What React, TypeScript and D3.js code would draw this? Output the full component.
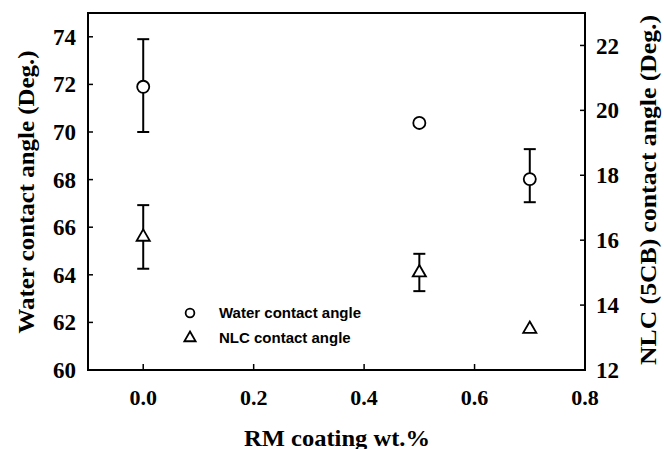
import React, { useEffect, useRef } from "react";
import * as d3 from "d3";

// RM coating wt.% values
const coating = [0.0, 0.5, 0.7];
// water contact angle (left axis) and its error range
const waterAngle = [71.9, 70.38, 68.02];
const waterLow = [70.0, null, 67.05];
const waterHigh = [73.9, null, 69.28];
// NLC (5CB) contact angle (right axis) and its error range
const nlcAngle = [16.1, 15.0, 13.26];
const nlcLow = [15.12, 14.43, null];
const nlcHigh = [17.08, 15.58, null];

const xTicks = [0.0, 0.2, 0.4, 0.6, 0.8];
const leftTicks = [60, 62, 64, 66, 68, 70, 72, 74];
const rightTicks = [12, 14, 16, 18, 20, 22];
const legendLabels = ["Water contact angle", "NLC contact angle"];

const App = () => {
  const svgRef = useRef<SVGSVGElement>(null);

  useEffect(() => {
    const svg = d3.select(svgRef.current);
    svg.selectAll("*").remove();

    const margin = { top: 13, right: 79, bottom: 79, left: 88 };
    const width = 664 - margin.left - margin.right;
    const height = 449 - margin.top - margin.bottom;
    const serif = "'Liberation Serif', 'Times New Roman', serif";
    const sans = "'Liberation Sans', Arial, sans-serif";

    const x = d3.scaleLinear().domain([-0.1, 0.8]).range([0, width]);
    const yL = d3.scaleLinear().domain([60, 75]).range([height, 0]);
    const yR = d3.scaleLinear().domain([12, 23]).range([height, 0]);

    const g = svg.append("g").attr("transform", `translate(${margin.left},${margin.top})`);

    // frame
    g.append("rect")
      .attr("width", width)
      .attr("height", height)
      .attr("fill", "none")
      .attr("stroke", "#000")
      .attr("stroke-width", 2);

    // x axis (ticks inward)
    const xAxis = g.append("g").attr("transform", `translate(0,${height})`);
    xAxis.selectAll("line")
      .data(xTicks)
      .join("line")
      .attr("x1", (d) => x(d))
      .attr("x2", (d) => x(d))
      .attr("y1", 0)
      .attr("y2", -6)
      .attr("stroke", "#000")
      .attr("stroke-width", 1.5);
    xAxis.selectAll("text")
      .data(xTicks)
      .join("text")
      .attr("x", (d) => x(d))
      .attr("y", 35)
      .attr("text-anchor", "middle")
      .attr("font-family", serif)
      .attr("font-weight", "bold")
      .attr("font-size", 22)
      .text((d) => d3.format(".1f")(d));

    // left axis
    const lAxis = g.append("g");
    lAxis.selectAll("line")
      .data(leftTicks)
      .join("line")
      .attr("x1", 0)
      .attr("x2", 5)
      .attr("y1", (d) => yL(d))
      .attr("y2", (d) => yL(d))
      .attr("stroke", "#000")
      .attr("stroke-width", 1.5);
    lAxis.selectAll("text")
      .data(leftTicks)
      .join("text")
      .attr("x", -12)
      .attr("y", (d) => yL(d))
      .attr("dy", "0.35em")
      .attr("text-anchor", "end")
      .attr("font-family", serif)
      .attr("font-weight", "bold")
      .attr("font-size", 23)
      .text((d) => d);

    // right axis
    const rAxis = g.append("g").attr("transform", `translate(${width},0)`);
    rAxis.selectAll("line")
      .data(rightTicks)
      .join("line")
      .attr("x1", -5)
      .attr("x2", 0)
      .attr("y1", (d) => yR(d))
      .attr("y2", (d) => yR(d))
      .attr("stroke", "#000")
      .attr("stroke-width", 1.5);
    rAxis.selectAll("text")
      .data(rightTicks)
      .join("text")
      .attr("x", 11)
      .attr("y", (d) => yR(d))
      .attr("dy", "0.35em")
      .attr("font-family", serif)
      .attr("font-weight", "bold")
      .attr("font-size", 23)
      .text((d) => d);

    // axis titles
    svg.append("text")
      .attr("transform", "translate(34,192) rotate(-90)")
      .attr("text-anchor", "middle")
      .attr("font-family", serif)
      .attr("font-weight", "bold")
      .attr("font-size", 23)
      .attr("textLength", 283)
      .attr("lengthAdjust", "spacingAndGlyphs")
      .text("Water contact angle (Deg.)");
    svg.append("text")
      .attr("transform", "translate(656,190) rotate(-90)")
      .attr("text-anchor", "middle")
      .attr("font-family", serif)
      .attr("font-weight", "bold")
      .attr("font-size", 23)
      .attr("textLength", 350)
      .attr("lengthAdjust", "spacingAndGlyphs")
      .text("NLC (5CB) contact angle (Deg.)");
    svg.append("text")
      .attr("x", 337)
      .attr("y", 446)
      .attr("text-anchor", "middle")
      .attr("font-family", serif)
      .attr("font-weight", "bold")
      .attr("font-size", 23)
      .attr("textLength", 186)
      .attr("lengthAdjust", "spacingAndGlyphs")
      .text("RM coating wt.%");

    // error bars
    const drawErr = (xs, lo, hi, scale) => {
      xs.forEach((xv, i) => {
        if (lo[i] == null) return;
        const cx = x(xv);
        const eg = g.append("g").attr("stroke", "#000").attr("stroke-width", 2);
        eg.append("line").attr("x1", cx).attr("x2", cx).attr("y1", scale(lo[i])).attr("y2", scale(hi[i]));
        [lo[i], hi[i]].forEach((v) =>
          eg.append("line").attr("x1", cx - 6).attr("x2", cx + 6).attr("y1", scale(v)).attr("y2", scale(v))
        );
      });
    };
    drawErr(coating, waterLow, waterHigh, yL);
    drawErr(coating, nlcLow, nlcHigh, yR);

    const circle = d3.symbol().type(d3.symbolCircle).size(115);
    const triangle = d3.symbol().type(d3.symbolTriangle).size(75);

    g.selectAll(".water")
      .data(coating)
      .join("path")
      .attr("d", circle())
      .attr("transform", (d, i) => `translate(${x(d)},${yL(waterAngle[i])})`)
      .attr("fill", "#fff")
      .attr("stroke", "#000")
      .attr("stroke-width", 1.8);

    g.selectAll(".nlc")
      .data(coating)
      .join("path")
      .attr("d", triangle())
      .attr("transform", (d, i) => `translate(${x(d)},${yR(nlcAngle[i])})`)
      .attr("fill", "#fff")
      .attr("stroke", "#000")
      .attr("stroke-width", 1.8);

    // legend
    const lg = svg.append("g").attr("transform", "translate(190,313)");
    lg.append("path")
      .attr("d", d3.symbol().type(d3.symbolCircle).size(60)())
      .attr("fill", "#fff").attr("stroke", "#000").attr("stroke-width", 1.8);
    lg.append("path")
      .attr("d", d3.symbol().type(d3.symbolTriangle).size(55)())
      .attr("transform", "translate(0,25)")
      .attr("fill", "#fff").attr("stroke", "#000").attr("stroke-width", 1.8);
    lg.selectAll("text")
      .data(legendLabels)
      .join("text")
      .attr("x", 29)
      .attr("y", (d, i) => i * 25)
      .attr("dy", "0.36em")
      .attr("font-family", sans)
      .attr("font-weight", "bold")
      .attr("font-size", 15)
      .text((d) => d);
  }, []);

  return (
    <svg
      ref={svgRef}
      width={664}
      height={449}
      style={{ position: "absolute", left: 0, top: 0, background: "#fff" }}
    ></svg>
  );
};

export default App;
